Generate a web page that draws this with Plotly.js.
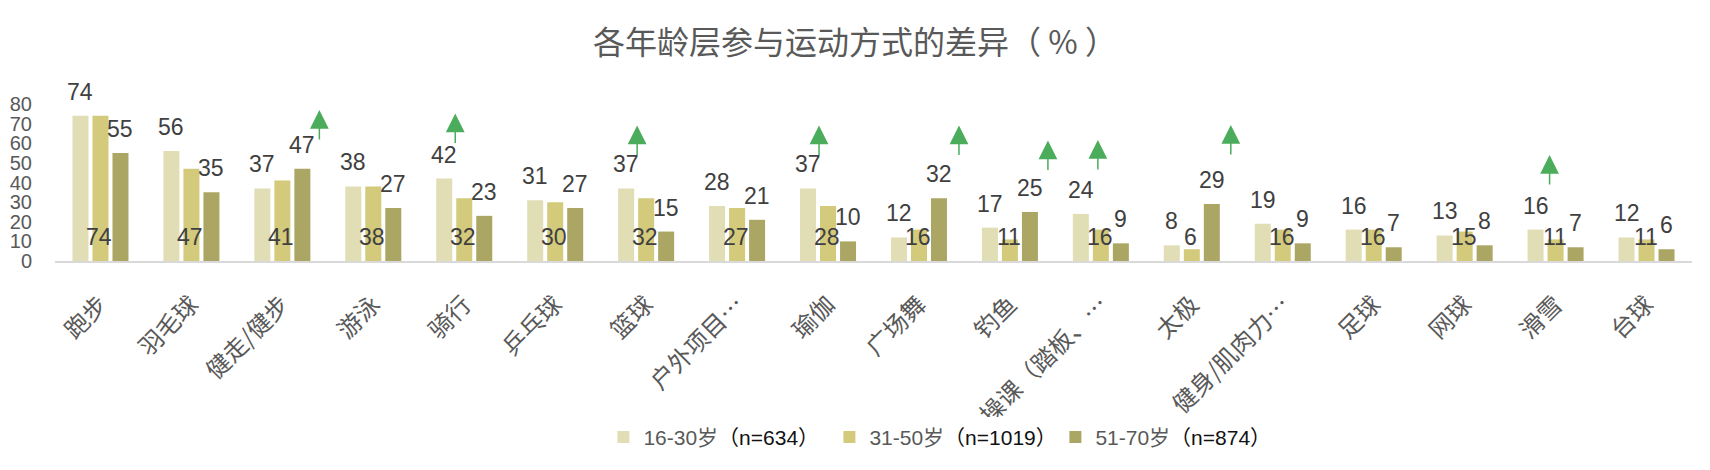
<!DOCTYPE html>
<html>
<head>
<meta charset="utf-8">
<script src="https://cdn.plot.ly/plotly-3.0.1.min.js"></script>
<style>
  html, body { margin: 0; padding: 0; background: #ffffff; }
  #plot { width: 1710px; height: 470px; }
</style>
</head>
<body>
<div id="plot"></div>
<script>
// sports, in chart order
const categories = [
  "跑步", "羽毛球", "健走/健步", "游泳", "骑行", "乒乓球", "篮球", "户外项目…", "瑜伽",
  "广场舞", "钓鱼", "操课（踏板、…", "太极", "健身/肌肉力…", "足球", "网球", "滑雪", "台球",
];

const seriesNames = ["16-30岁", "31-50岁", "51-70岁"];
const sampleSizes = ["n=634", "n=1019", "n=874"];

const age16to30 = [74, 56, 37, 38, 42, 31, 37, 28, 37, 12, 17, 24, 8, 19, 16, 13, 16, 12];
const age31to50 = [74, 47, 41, 38, 32, 30, 32, 27, 28, 16, 11, 16, 6, 16, 16, 15, 11, 11];
const age51to70 = [55, 35, 47, 27, 23, 27, 15, 21, 10, 32, 25, 9, 29, 9, 7, 8, 7, 6];

const yTicks = [0, 10, 20, 30, 40, 50, 60, 70, 80];

// sports marked with a green "up" arrow
const upArrowCats = ["健走/健步", "骑行", "篮球", "瑜伽", "广场舞", "钓鱼", "操课（踏板、…", "太极", "滑雪"];

const COLORS = ["#e1deb5", "#d3ca7b", "#aca665"];
const LABEL_FONT = { family: "Liberation Sans, Arial, sans-serif", size: 23, color: "#404040" };
const GREEN = "#4bad5b";

// hand placement of the arrows (pixel shift from category centre, tip height in axis units)
const ARROW_PLACE = {
  "健走/健步": [37, 77.0],
  "骑行": [-9, 75.1],
  "篮球": [-9, 69.1],
  "瑜伽": [-9, 69.1],
  "广场舞": [40, 69.1],
  "钓鱼": [38, 61.4],
  "操课（踏板、…": [-3, 61.7],
  "太极": [39, 69.3],
  "滑雪": [-6, 54.0],
};

function buildTraces() {
  const all = [age16to30, age31to50, age51to70];
  return all.map((vals, i) => ({
    type: "bar",
    name: `${seriesNames[i]}<span style="color:#111111">（${sampleSizes[i]}）</span>`,
    x: categories,
    y: vals,
    marker: { color: COLORS[i] },
    hoverinfo: "x+y",
  }));
}

function buildAnnotations() {
  const out = [];
  categories.forEach((c, k) => {
    // 16-30: above bar
    out.push({
      x: c, y: age16to30[k], xref: "x", yref: "y",
      text: String(age16to30[k]), showarrow: false,
      xshift: -20, yshift: 24, yanchor: "middle", font: LABEL_FONT,
    });
    // 31-50: at the base of the bar
    out.push({
      x: c, y: 0, xref: "x", yref: "y",
      text: String(age31to50[k]), showarrow: false,
      xshift: -1, yshift: 24, yanchor: "middle", font: LABEL_FONT,
    });
    // 51-70: above bar
    out.push({
      x: c, y: age51to70[k], xref: "x", yref: "y",
      text: String(age51to70[k]), showarrow: false,
      xshift: 20, yshift: 24, yanchor: "middle", font: LABEL_FONT,
    });
  });

  upArrowCats.forEach((c) => {
    const [dx, tip] = ARROW_PLACE[c];
    out.push({
      x: categories.indexOf(c), y: tip, xref: "x", yref: "y",
      xshift: dx,
      text: "", showarrow: true,
      ax: 0, ay: 31, axref: "pixel", ayref: "pixel",
      arrowhead: 2, arrowsize: 2.5, arrowwidth: 1.5, arrowcolor: GREEN,
      standoff: 0, startstandoff: 0,
    });
  });
  return out;
}

function buildLayout() {
  return {
    width: 1710,
    height: 470,
    paper_bgcolor: "#ffffff",
    plot_bgcolor: "#ffffff",
    margin: { l: 55, r: 18, t: 104, b: 204 },
    barmode: "group",
    bargap: 0.34,
    bargroupgap: 0.2,
    showlegend: true,
    title: {
      text: "各年龄层参与运动方式的差异（ % ）",
      font: { family: "Noto Sans CJK SC, sans-serif", size: 32, color: "#595959" },
      xref: "container", x: 0.5, xanchor: "center",
      yref: "container", y: 0.908, yanchor: "middle",
    },
    xaxis: {
      type: "category",
      tickangle: -45,
      tickfont: { family: "Noto Sans CJK SC, sans-serif", size: 24, color: "#595959" },
      showline: true,
      linecolor: "#d9d9d9",
      linewidth: 2,
      ticks: "",
      showgrid: false,
      ticklabelstandoff: 18,
    },
    yaxis: {
      range: [0, 80],
      tickvals: yTicks,
      ticktext: yTicks.map(String),
      tickfont: { family: "Liberation Sans, Arial, sans-serif", size: 20, color: "#595959" },
      showgrid: false,
      zeroline: false,
      showline: false,
      ticks: "",
      ticklabelstandoff: 22,
    },
    legend: {
      orientation: "h",
      x: 0.335, xanchor: "left",
      y: -1.123, yanchor: "middle",
      font: { family: "Liberation Sans, Noto Sans CJK SC, sans-serif", size: 21, color: "#595959" },
      entrywidth: 181,
      entrywidthmode: "pixels",
      traceorder: "normal",
    },
    annotations: buildAnnotations(),
  };
}

Plotly.newPlot("plot", buildTraces(), buildLayout(), { staticPlot: true, displayModeBar: false });
</script>
</body>
</html>
